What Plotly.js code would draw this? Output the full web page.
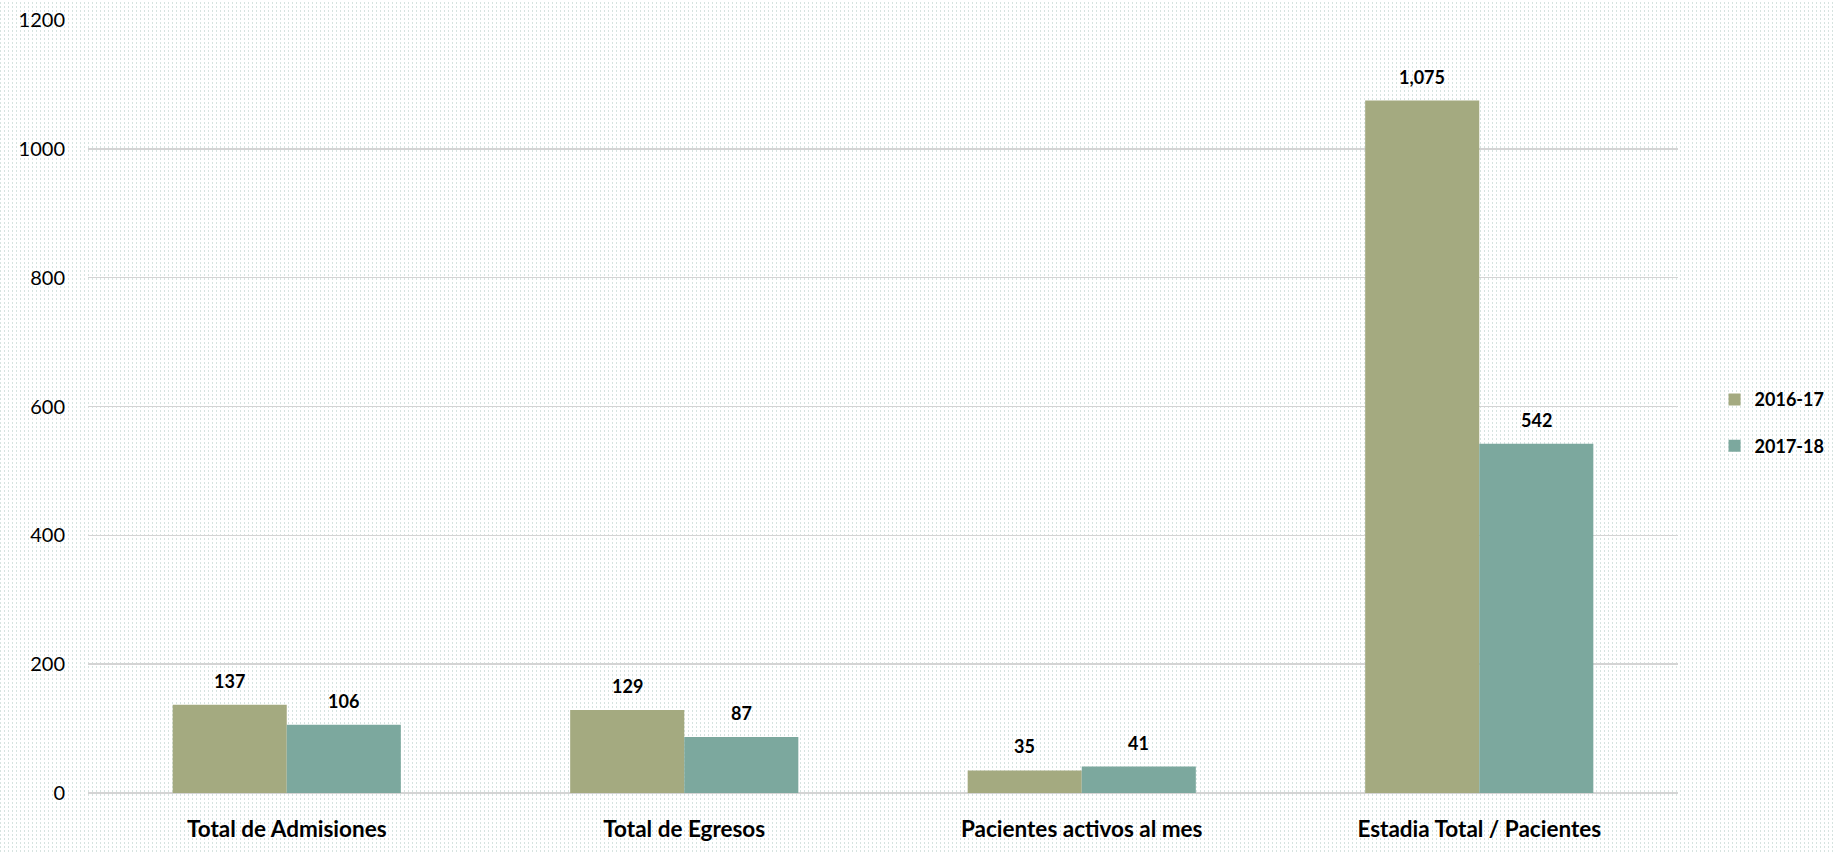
<!DOCTYPE html>
<html>
<head>
<meta charset="utf-8">
<script src="https://cdn.plot.ly/plotly-3.0.1.min.js"></script>
<style>
  html, body { margin: 0; padding: 0; }
  body {
    width: 1836px; height: 853px; overflow: hidden;
    background-color: #ffffff;
    background-image:
      linear-gradient(to bottom, #ffffff 50%, rgba(255,255,255,0) 50%),
      linear-gradient(to right, #d6e3e0 1px, rgba(255,255,255,0) 1px);
    background-size: 4px 4px, 4px 4px;
  }
  #chart { width: 1836px; height: 853px; }
</style>
</head>
<body>
<div id="chart"></div>
<script>
const categories = ["Total de Admisiones", "Total de Egresos", "Pacientes activos al mes", "Estadia Total / Pacientes"];
const seriesNames = ["2016-17", "2017-18"];
const values2016 = [137, 129, 35, 1075];
const values2017 = [106, 87, 41, 542];
const yTicks = [0, 200, 400, 600, 800, 1000, 1200];

const colors = ["#a4aa80", "#7ca89e"];
const fontFam = "Lato, 'Open Sans', sans-serif";

const traces = [values2016, values2017].map((vals, i) => ({
  type: "bar",
  name: seriesNames[i],
  legendgroup: "g" + i,
  x: categories,
  y: vals,
  marker: { color: colors[i], line: { width: 0 } },
  hoverinfo: "skip"
}));

const annotations = [];
[values2016, values2017].forEach((vals, i) => {
  vals.forEach((v, j) => {
    annotations.push({
      x: categories[j], y: v, xref: "x", yref: "y",
      text: "<b>" + v.toLocaleString("en-US") + "</b>",
      showarrow: false,
      xshift: i === 0 ? -57 : 57,
      yshift: 24,
      yanchor: "middle",
      font: { family: fontFam, size: 18, color: "#000000" }
    });
  });
});

const layout = {
  width: 1836, height: 853,
  margin: { l: 88, r: 158, t: 20, b: 60, autoexpand: false },
  paper_bgcolor: "rgba(0,0,0,0)",
  plot_bgcolor: "rgba(0,0,0,0)",
  barmode: "group",
  bargap: 0.426,
  bargroupgap: 0,
  showlegend: true,
  legend: {
    x: 1.023, xanchor: "left", y: 0.479, yanchor: "middle",
    font: { family: fontFam, size: 18, color: "#000000", weight: "bold" },
    traceorder: "grouped",
    tracegroupgap: 20,
    itemwidth: 30,
    bgcolor: "rgba(0,0,0,0)"
  },
  xaxis: {
    type: "category",
    tickfont: { family: fontFam, size: 22.5, color: "#000000", weight: "bold" },
    ticks: "", showgrid: false, showline: false, zeroline: false,
    ticklabelstandoff: 20
  },
  yaxis: {
    range: [0, 1200],
    tickvals: yTicks,
    ticktext: yTicks.map(String),
    tickfont: { family: fontFam, size: 20, color: "#000000" },
    showgrid: true, gridcolor: "#d4d4d4", gridwidth: 1.5,
    zeroline: true, zerolinecolor: "#d4d4d4", zerolinewidth: 2,
    showline: false, ticks: "",
    ticklabelstandoff: 22
  },
  annotations: annotations,
  font: { family: fontFam }
};

Plotly.newPlot("chart", traces, layout, { displayModeBar: false, staticPlot: true });
</script>
</body>
</html>
